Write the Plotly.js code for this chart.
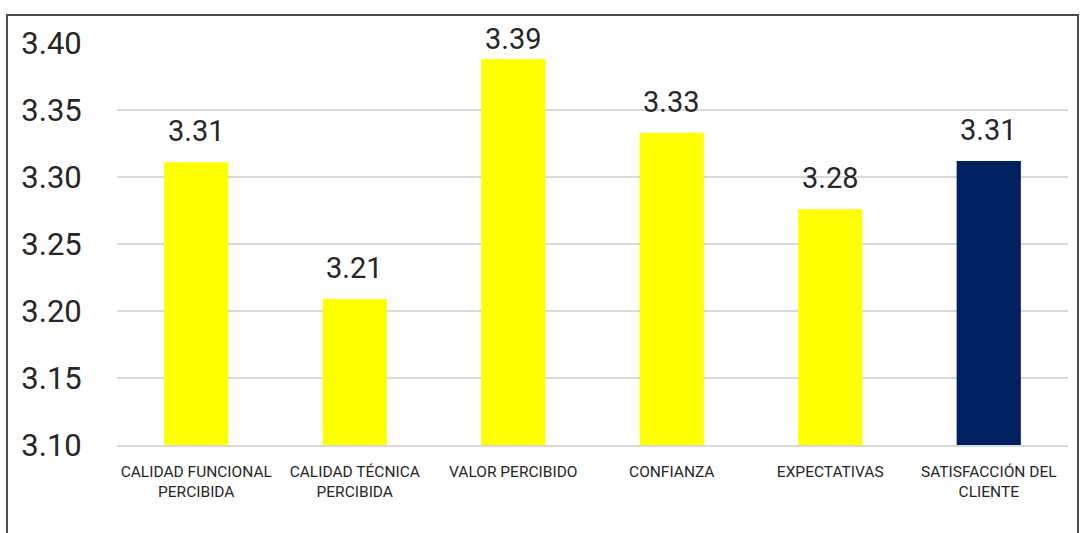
<!DOCTYPE html>
<html>
<head>
<meta charset="utf-8">
<script src="https://cdn.plot.ly/plotly-3.0.1.min.js"></script>
<style>
  html, body { margin: 0; padding: 0; background: #fff; }
  #wrap { position: relative; width: 1086px; height: 533px; overflow: hidden; }
  #chart { position: absolute; left: 0; top: 0; width: 1086px; height: 533px; }
  #frame { position: absolute; left: 6px; top: 14px; width: 1073px; height: 600px;
           border: 2px solid #4a4a4a; box-sizing: border-box; pointer-events: none; }
</style>
</head>
<body>
<div id="wrap">
  <div id="chart"></div>
  <div id="frame"></div>
</div>
<script>
const categories = [
  "CALIDAD FUNCIONAL<br>PERCIBIDA",
  "CALIDAD TÉCNICA<br>PERCIBIDA",
  "VALOR PERCIBIDO",
  "CONFIANZA",
  "EXPECTATIVAS",
  "SATISFACCIÓN DEL<br>CLIENTE"
];
const values = [3.311, 3.209, 3.388, 3.333, 3.276, 3.312];
const valueLabels = ["3.31", "3.21", "3.39", "3.33", "3.28", "3.31"];
const barColors = ["#FFFF00", "#FFFF00", "#FFFF00", "#FFFF00", "#FFFF00", "#002060"];
const yTicks = [3.10, 3.15, 3.20, 3.25, 3.30, 3.35, 3.40];
const yTickLabels = ["3.10", "3.15", "3.20", "3.25", "3.30", "3.35", "3.40"];

const yMin = 3.10, yMax = 3.40;
const mT = 43, mB = 88, H = 533;
const pxPerUnit = (H - mT - mB) / (yMax - yMin);

const trace = {
  type: "bar",
  x: categories,
  y: values.map(v => v - yMin),
  base: yMin,
  marker: { color: barColors },
  hoverinfo: "skip"
};

// labels sit above bars; like the original, a label is kept from rising past the frame top
const annotations = categories.map((c, i) => {
  const barTopPx = mT + (yMax - values[i]) * pxPerUnit;
  const overflow = Math.max(0, 52 - (barTopPx - 18));
  return {
    x: c, y: values[i], xref: "x", yref: "y",
    text: valueLabels[i], showarrow: false,
    yanchor: "bottom", yshift: 12 - overflow,
    font: { family: "Roboto, sans-serif", size: 29, color: "#262626" }
  };
});

const layout = {
  width: 1086, height: H,
  margin: { l: 117, r: 18, t: mT, b: mB },
  paper_bgcolor: "#ffffff",
  plot_bgcolor: "#ffffff",
  showlegend: false,
  bargap: 0.595,
  font: { family: "Roboto, sans-serif", color: "#262626" },
  xaxis: {
    type: "category",
    tickfont: { family: "Roboto, sans-serif", size: 15.5, color: "#262626" },
    showline: true, linecolor: "#d9d9d9", linewidth: 2,
    ticks: "outside", ticklen: 11, tickcolor: "rgba(0,0,0,0)",
    showgrid: false, zeroline: false, tickangle: 0
  },
  yaxis: {
    range: [yMin, yMax],
    tickvals: yTicks, ticktext: yTickLabels,
    tickfont: { family: "Roboto, sans-serif", size: 31, color: "#262626" },
    showgrid: true, gridcolor: "#d9d9d9", gridwidth: 1.5,
    zeroline: false, showline: false,
    ticks: "outside", ticklen: 28, tickcolor: "rgba(0,0,0,0)"
  },
  annotations: annotations
};

Plotly.newPlot("chart", [trace], layout, { displayModeBar: false, staticPlot: true });
</script>
</body>
</html>
